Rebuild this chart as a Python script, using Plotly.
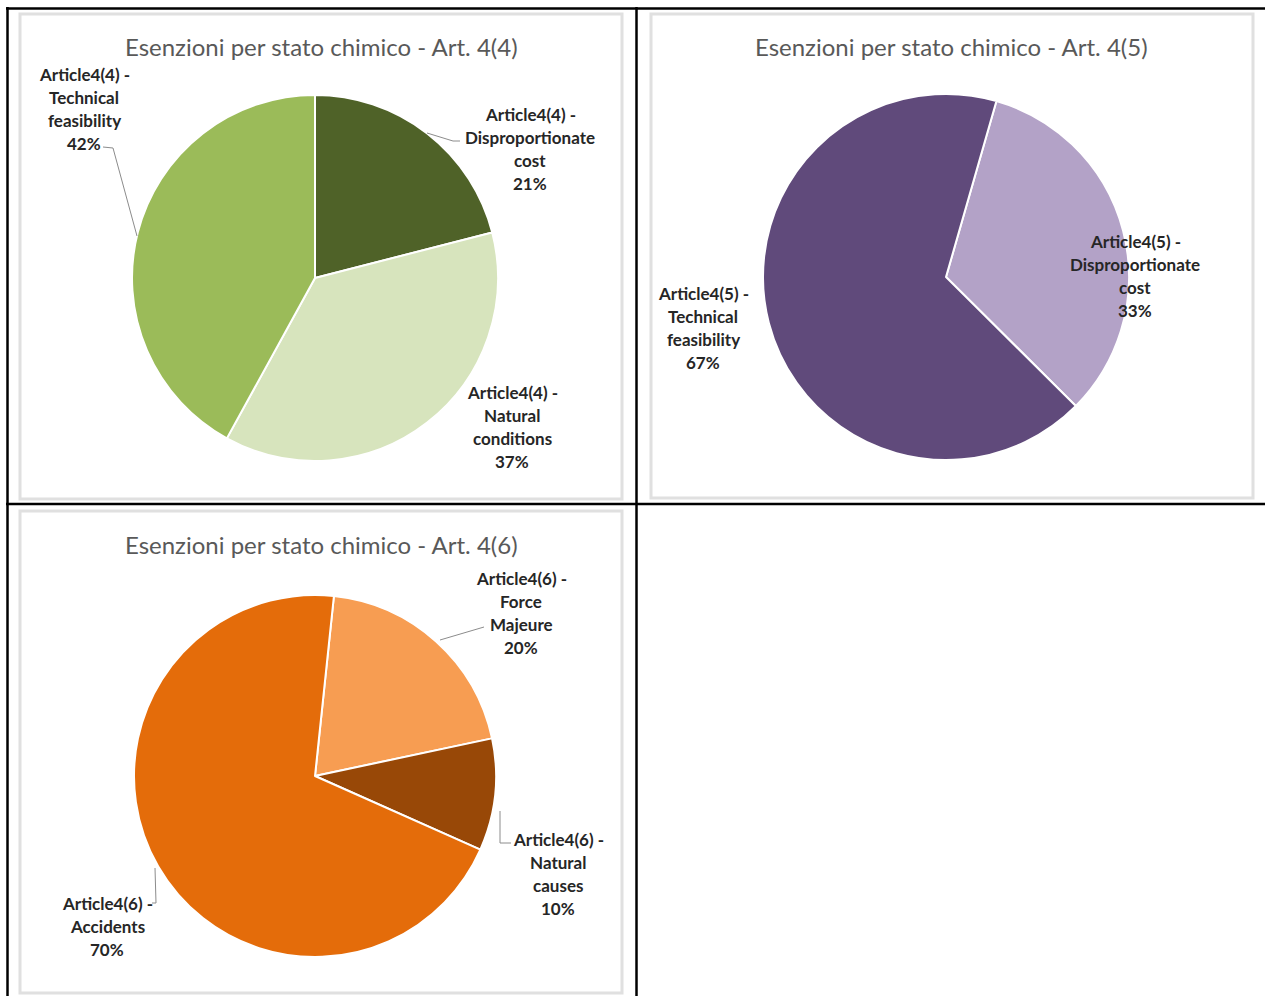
import plotly.graph_objects as go

W, H = 1265, 996

# --- data ---
TITLES = [
    'Esenzioni per stato chimico - Art. 4(4)',
    'Esenzioni per stato chimico - Art. 4(5)',
    'Esenzioni per stato chimico - Art. 4(6)',
]

art44_labels = ['Article4(4) - Disproportionate cost',
                'Article4(4) - Natural conditions',
                'Article4(4) - Technical feasibility']
art44_values = [21, 37, 42]

art45_labels = ['Article4(5) - Disproportionate cost',
                'Article4(5) - Technical feasibility']
art45_values = [33, 67]

art46_labels = ['Article4(6) - Force Majeure',
                'Article4(6) - Natural causes',
                'Article4(6) - Accidents']
art46_values = [20, 10, 70]

# how each label is wrapped on lines (Excel-like)
art44_lines = [['Article4(4) -', 'Disproportionate', 'cost'],
               ['Article4(4) -', 'Natural', 'conditions'],
               ['Article4(4) -', 'Technical', 'feasibility']]
art45_lines = [['Article4(5) -', 'Disproportionate', 'cost'],
               ['Article4(5) -', 'Technical', 'feasibility']]
art46_lines = [['Article4(6) -', 'Force', 'Majeure'],
               ['Article4(6) -', 'Natural', 'causes'],
               ['Article4(6) -', 'Accidents']]

GREENS = ['#4F6228', '#D7E4BD', '#9BBB59']
PURPLES = ['#B3A2C7', '#604A7B']
ORANGES = ['#F79D52', '#984807', '#E46C0A']

# chart layout in pixels: pie centre, radius, rotation, title centre, frame box, label spots
CHARTS = [
    dict(title=TITLES[0], labels=art44_labels, values=art44_values, lines=art44_lines,
         colors=GREENS, cx=315, cy=278, r=183, rot=0, tx=321, ty=46,
         box=(20, 14, 622, 499), lab=[(530, 114), (512, 392), (84, 74)]),
    dict(title=TITLES[1], labels=art45_labels, values=art45_values, lines=art45_lines,
         colors=PURPLES, cx=946, cy=277, r=183, rot=16, tx=951, ty=46,
         box=(651, 14, 1253, 498), lab=[(1135, 241), (703, 293)]),
    dict(title=TITLES[2], labels=art46_labels, values=art46_values, lines=art46_lines,
         colors=ORANGES, cx=315, cy=776, r=181, rot=6, tx=321, ty=544,
         box=(20, 511, 622, 993), lab=[(521, 578), (558, 839), (107, 903)]),
]

# leader lines (pixel polylines)
LEADERS = [
    [(103, 147), (113, 148), (137, 236)],
    [(427, 133), (453, 141), (460, 141)],
    [(440, 640), (484, 627)],
    [(500, 811), (500, 843), (511, 843)],
    [(155, 868), (156, 903), (152, 903)],
]

fig = go.Figure()
shapes = []
annotations = []

for c in CHARTS:
    x0, y0, x1, y1 = c['box']
    shapes.append(dict(type='rect', xref='x', yref='y', x0=x0, y0=y0, x1=x1, y1=y1,
                       line=dict(color='#e0e0e0', width=3), fillcolor='white', layer='below'))
    fig.add_trace(go.Pie(
        labels=c['labels'], values=c['values'], sort=False, direction='clockwise',
        rotation=c['rot'], textinfo='none', hoverinfo='label+percent',
        marker=dict(colors=c['colors'], line=dict(color='white', width=2)),
        domain=dict(x=[(c['cx'] - c['r']) / W, (c['cx'] + c['r']) / W],
                    y=[1 - (c['cy'] + c['r']) / H, 1 - (c['cy'] - c['r']) / H]),
        showlegend=False,
    ))
    annotations.append(dict(x=c['tx'], y=c['ty'], xref='x', yref='y', text=c['title'],
                            showarrow=False, font=dict(family='Lato', size=24, color='#595959')))
    total = sum(c['values'])
    for lines, v, (lx, ly) in zip(c['lines'], c['values'], c['lab']):
        for i, t in enumerate(lines + [f'{round(100 * v / total)}%']):
            annotations.append(dict(x=lx, y=ly + 23 * i, xref='x', yref='y', text=f'<b>{t}</b>',
                                    showarrow=False, font=dict(family='Lato', size=17, color='#262626')))

for pts in LEADERS:
    for (ax, ay), (bx, by) in zip(pts[:-1], pts[1:]):
        shapes.append(dict(type='line', xref='x', yref='y', x0=ax, y0=ay, x1=bx, y1=by,
                           line=dict(color='#8c8c8c', width=1)))

# table grid lines
grid = dict(color='black', width=2.5)
shapes += [
    dict(type='line', xref='x', yref='y', x0=6, y0=8.5, x1=W, y1=8.5, line=grid),
    dict(type='line', xref='x', yref='y', x0=7.5, y0=7, x1=7.5, y1=H, line=grid),
    dict(type='line', xref='x', yref='y', x0=636.5, y0=7, x1=636.5, y1=H, line=grid),
    dict(type='line', xref='x', yref='y', x0=6, y0=504, x1=W, y1=504, line=grid),
]

fig.update_layout(
    width=W, height=H, autosize=False,
    margin=dict(l=0, r=0, t=0, b=0),
    paper_bgcolor='white', plot_bgcolor='rgba(0,0,0,0)',
    xaxis=dict(range=[0, W], visible=False, fixedrange=True),
    yaxis=dict(range=[H, 0], visible=False, fixedrange=True),
    shapes=shapes, annotations=annotations,
)

fig.write_html('out.html', config={'displayModeBar': False},
               post_script="document.body.style.margin='0';document.body.style.overflow='hidden';")
